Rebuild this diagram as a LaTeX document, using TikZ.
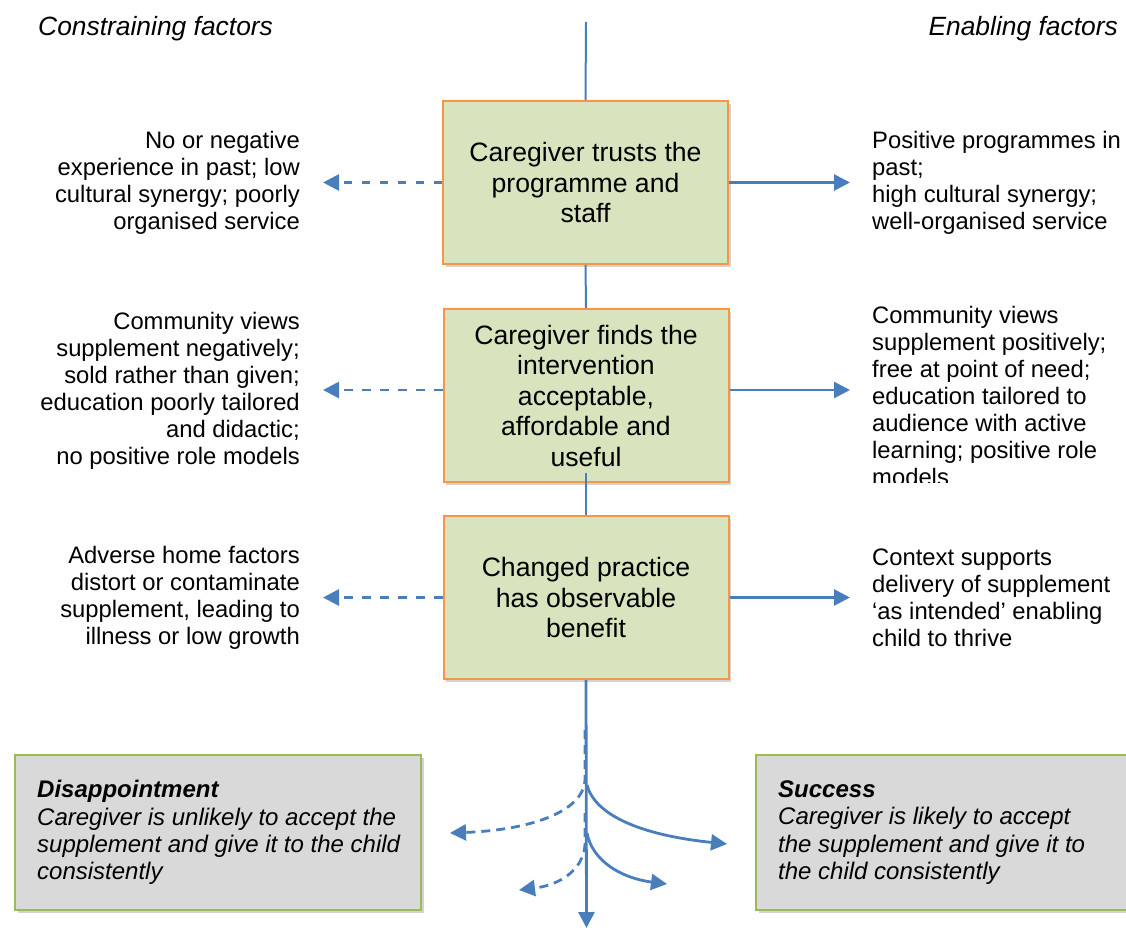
\documentclass[tikz,border=0pt]{standalone}
\usepackage{fontspec}
\setmainfont{Liberation Sans}
\usetikzlibrary{arrows.meta,shadows}
\definecolor{lineblue}{HTML}{4A7EBB}
\definecolor{boxgreen}{HTML}{D7E4BD}
\definecolor{boxorange}{HTML}{F79646}
\definecolor{outgray}{HTML}{D9D9D9}
\definecolor{outgreen}{HTML}{9BBB59}
\begin{document}
\begin{tikzpicture}[x=1pt,y=-1pt,
  stepbox/.style={draw=boxorange, line width=2pt, fill=boxgreen,
    minimum width=285pt, minimum height=163pt, inner sep=0pt, align=center,
    font=\fontsize{26.6}{30.5}\selectfont,
    drop shadow={shadow xshift=2.5pt,shadow yshift=-3pt,opacity=0.35}},
  outbox/.style={draw=outgreen, line width=2pt, fill=outgray,
    minimum width=406pt, minimum height=155pt, inner sep=0pt,
    drop shadow={shadow xshift=2.5pt,shadow yshift=-3pt,opacity=0.35}},
  lefttext/.style={anchor=east, align=right, inner sep=0pt, font=\fontsize{23.8}{27}\selectfont},
  righttext/.style={anchor=west, align=left, inner sep=0pt, font=\fontsize{23.8}{27}\selectfont},
  outtext/.style={anchor=west, align=left, inner sep=0pt, font=\fontsize{24}{27.3}\selectfont\itshape},
  titletext/.style={inner sep=0pt, font=\fontsize{26.4}{30}\selectfont\itshape},
  spine/.style={draw=lineblue, line width=2pt},
  solidarrow/.style={draw=lineblue, line width=2.8pt, -{Triangle[length=16pt,width=16pt]}},
  dasharrow/.style={draw=lineblue, line width=2.8pt, dash pattern=on 8.5pt off 9.5pt, -{Triangle[length=16pt,width=16pt]}},
  curvedash/.style={draw=lineblue, line width=2.8pt, dash pattern=on 9pt off 6pt, -{Triangle[length=16pt,width=16pt]}}
]
\useasboundingbox (0,0) rectangle (1126,928);

% titles
\node[titletext, anchor=west] (tl) at (38,29) {Constraining factors};
\node[titletext, anchor=east] (tr) at (1118,29) {Enabling factors};

% central boxes
\node[stepbox] (b1) at (585.5,182.5) {Caregiver trusts the\\programme and\\staff};
\node[stepbox, minimum height=173pt] (b2) at (586,395.5) {Caregiver finds the\\intervention\\acceptable,\\affordable and\\useful};
\node[stepbox] (b3) at (586,597.5) {Changed practice\\has observable\\benefit};

% side texts
\node[lefttext] (l1) at (300,182.5) {No or negative\\experience in past; low\\cultural synergy; poorly\\organised service};
\node[lefttext] (l2) at (300,391) {Community views\\supplement negatively;\\sold rather than given;\\education poorly tailored\\and didactic;\\no positive role models};
\node[lefttext] (l3) at (300,597.5) {Adverse home factors\\distort or contaminate\\supplement, leading to\\illness or low growth};

\node[righttext] (r1) at (872,182.5) {Positive programmes in\\past;\\high cultural synergy;\\well-organised service};
\begin{scope}
\clip (800,290) rectangle (1126,482);
\node[righttext] (r2) at (872,396) {Community views\\supplement positively;\\free at point of need;\\education tailored to\\audience with active\\learning; positive role\\models};
\end{scope}
\node[righttext] (r3) at (872,597.5) {Context supports\\delivery of supplement\\‘as intended’ enabling\\child to thrive};

% outcome boxes
\node[outbox] (o1) at (218,832.5) {};
\node[outtext] (o1t) at (37,832.5) {\textbf{Disappointment}\\Caregiver is unlikely to accept the\\supplement and give it to the child\\consistently};
\begin{scope}
\clip (740,740) rectangle (1126,928);
\node[outbox] (o2) at (959,832.5) {};
\end{scope}
\node[outtext] (o2t) at (778,832.5) {\textbf{Success}\\Caregiver is likely to accept\\the supplement and give it to\\the child consistently};

% spine
\coordinate (top) at (586,22);
\coordinate (bot) at (586.5,928);
\draw[spine] (top) -- (b1.north);
\draw[spine] (b1.south) -- (b2.north);
\draw[spine] ([yshift=10pt]b2.south) -- (b3.north);
\draw[solidarrow] (b3.south) -- (bot);

% side arrows
\draw[dasharrow, shorten >=23pt] (b1.west) -- (b1.west -| l1.east);
\draw[solidarrow, shorten >=22pt] (b1.east) -- (b1.east -| r1.west);
\draw[dasharrow, shorten >=23pt] ([yshift=5.5pt]b2.west) -- ([yshift=5.5pt]b2.west -| l2.east);
\draw[solidarrow, shorten >=22pt] ([yshift=5.5pt]b2.east) -- ([yshift=5.5pt]b2.east -| r2.west);
\draw[dasharrow, shorten >=23pt] (b3.west) -- (b3.west -| l3.east);
\draw[solidarrow, shorten >=22pt] (b3.east) -- (b3.east -| r3.west);

% branching curves
\coordinate (d1s) at (585,730);
\coordinate (d1e) at (450,833);
\coordinate (s1s) at (587,785);
\coordinate (s1e) at (727,844);
\coordinate (d2s) at (585,813);
\coordinate (d2e) at (519,890);
\coordinate (s2s) at (587,833);
\coordinate (s2e) at (667,884);
\draw[curvedash] (d1s) -- (585,780) .. controls (583,812) and (530,830) .. (d1e);
\draw[solidarrow] (s1s) .. controls (595,815) and (640,835) .. (s1e);
\draw[curvedash] (d2s) -- (585,845) .. controls (583,870) and (560,885) .. (d2e);
\draw[solidarrow] (s2s) .. controls (592,860) and (620,878) .. (s2e);
\end{tikzpicture}
\end{document}
